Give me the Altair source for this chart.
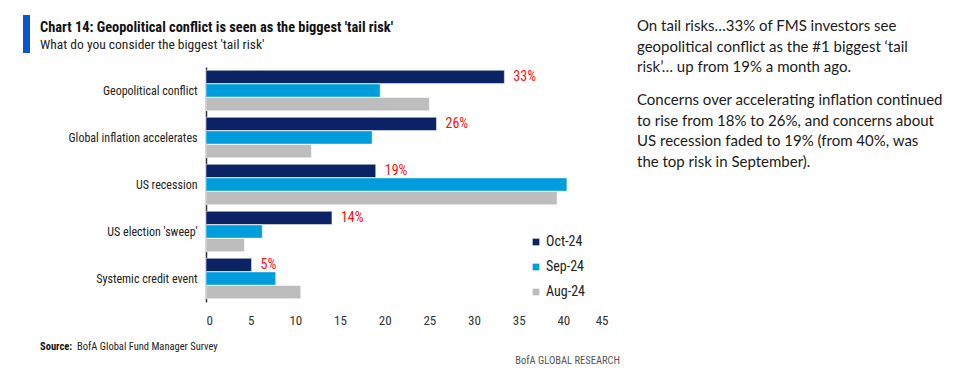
import altair as alt
import pandas as pd

categories = ["Geopolitical conflict", "Global inflation accelerates", "US recession",
              "US election 'sweep'", "Systemic credit event"]
series = ["Oct-24", "Sep-24", "Aug-24"]
oct24 = [33.4, 25.8, 19.0, 14.1, 5.1]
sep24 = [19.5, 18.6, 40.4, 6.3, 7.8]
aug24 = [25.0, 11.8, 39.3, 4.3, 10.6]
labels = ["33%", "26%", "19%", "14%", "5%"]
x_ticks = [0, 5, 10, 15, 20, 25, 30, 35, 40, 45]
colors = ["#0b2265", "#009ddc", "#bdbdbd"]

title = "Chart 14: Geopolitical conflict is seen as the biggest 'tail risk'"
subtitle = "What do you consider the biggest 'tail risk'"
para1 = "On tail risks\u202633% of FMS investors see\ngeopolitical conflict as the #1 biggest \u2018tail\nrisk\u2019\u2026 up from 19% a month ago."
para2 = "Concerns over accelerating inflation continued\nto rise from 18% to 26%, and concerns about\nUS recession faded to 19% (from 40%, was\nthe top risk in September)."
source_bold = "Source:"
source_rest = "BofA Global Fund Manager Survey"
brand = "BofA GLOBAL RESEARCH"

NARROW = "'Roboto Condensed', 'Noto Sans Condensed', 'DejaVu Sans Condensed', 'Liberation Sans Narrow', 'Open Sans Condensed', Roboto, sans-serif"

rows = []
for i, c in enumerate(categories):
    for s, vals in zip(series, [oct24, sep24, aug24]):
        rows.append({"category": c, "series": s, "value": vals[i]})
df = pd.DataFrame(rows)
lab_df = pd.DataFrame({"category": categories, "series": ["Oct-24"] * 5,
                       "value": oct24, "label": labels})

y_enc = alt.Y("category:N", sort=categories, title=None,
              scale=alt.Scale(paddingInner=0.14, paddingOuter=0.07),
              axis=alt.Axis(labelFont=NARROW, labelFontSize=12, labelColor="#222",
                            labelPadding=9, ticks=False, domainColor="#333",
                            domainWidth=1.5, labelLimit=200))
x_enc = alt.X("value:Q", title=None, scale=alt.Scale(domain=[0, 45], nice=False),
              axis=alt.Axis(values=x_ticks, grid=False, domain=False, ticks=False,
                            labelFont=NARROW, labelFontSize=13, labelColor="#333",
                            labelPadding=12))
yoff = alt.YOffset("series:N", sort=series, scale=alt.Scale(domain=series, paddingInner=0.03))

bars = alt.Chart(df).mark_bar(stroke="white", strokeWidth=0.5).encode(
    y=y_enc, x=x_enc, yOffset=yoff,
    color=alt.Color("series:N", sort=series,
                    scale=alt.Scale(domain=series, range=colors),
                    legend=alt.Legend(title=None, orient="none", legendX=323, legendY=168,
                                      symbolType="square", symbolSize=45,
                                      symbolStrokeWidth=0, labelFont=NARROW,
                                      labelFontSize=14, labelColor="#222",
                                      rowPadding=11, labelOffset=3, padding=0)),
)

vlabels = alt.Chart(lab_df).mark_text(align="left", baseline="middle", dx=9,
                                      font=NARROW, fontSize=14, color="#ff0d0d").encode(
    y=alt.Y("category:N", sort=categories), x="value:Q", yOffset=yoff, text="label:N"
)

def txt(s, x, y, **kw):
    return alt.Chart(pd.DataFrame({"t": [s]})).mark_text(
        align=kw.pop("align", "left"), baseline="alphabetic", **kw
    ).encode(x=alt.value(x), y=alt.value(y), text="t:N")

accent = alt.Chart(pd.DataFrame({"t": [title]})).mark_rect(color="#0a56cf").encode(
    x=alt.value(-183), x2=alt.value(-176), y=alt.value(-52), y2=alt.value(-14))

t1 = txt(title, -166, -35, font=NARROW, fontSize=14.4, fontWeight="bold", color="#111")
t2 = txt(subtitle, -166, -18, font=NARROW, fontSize=13.5, color="#222")
p1 = txt(para1, 431, -36, font="Lato", fontSize=15, color="#1a1a1a", lineBreak="\n", lineHeight=20.5)
p2 = txt(para2, 431, 38, font="Lato", fontSize=15, color="#1a1a1a", lineBreak="\n", lineHeight=20.5)
s1 = txt(source_bold, -166, 283, font=NARROW, fontSize=10.5, fontWeight="bold", color="#111")
s2 = txt(source_rest, -129, 283, font=NARROW, fontSize=10.5, color="#222")
b1 = txt(brand, 414, 297, font=NARROW, fontSize=10.5, color="#555", align="right")

chart = alt.layer(bars, vlabels, accent, t1, t2, p1, p2, s1, s2, b1).properties(
    width=402, height=235,
    autosize=alt.AutoSizeParams(type="none"),
    padding={"left": 198, "top": 59, "right": 351, "bottom": 66},
).configure(background="white").configure_view(stroke=None)

chart.save("out.html", embed_options={"renderer": "svg", "actions": False})
